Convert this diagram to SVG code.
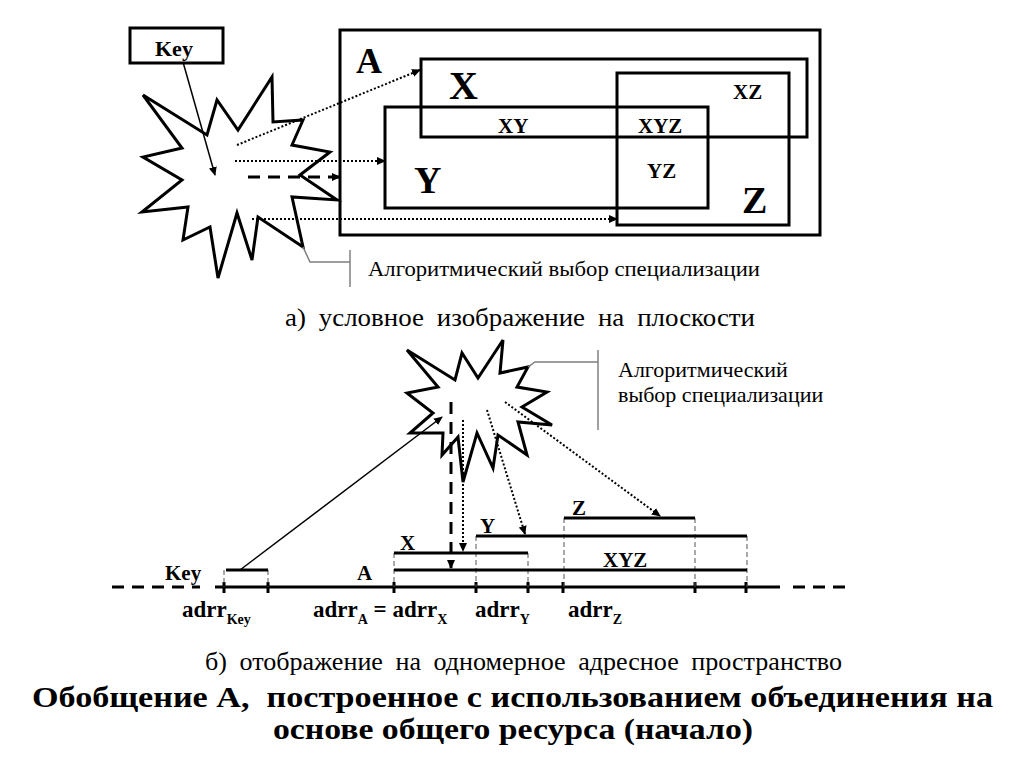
<svg xmlns="http://www.w3.org/2000/svg" width="1024" height="768" viewBox="0 0 1024 768">
<style>
.box{fill:none;stroke:#000;stroke-width:3}
.star{fill:#fff;stroke:#000;stroke-width:3;stroke-linejoin:miter}
.b{font-family:'Liberation Serif','Times New Roman','DejaVu Serif',serif;font-weight:bold;fill:#000}
.r{font-family:'Liberation Serif','Times New Roman','DejaVu Serif',serif;font-weight:normal;fill:#000}
.dot{fill:none;stroke:#000;stroke-width:2;stroke-dasharray:2 2}
.dash{fill:none;stroke:#000;stroke-width:3;stroke-dasharray:12 8}
.sol{fill:none;stroke:#000;stroke-width:1.5}
.call{fill:none;stroke:#7f7f7f;stroke-width:1.5}
.bar{fill:none;stroke:#000;stroke-width:3}
.gd{fill:none;stroke:#555;stroke-width:1;stroke-dasharray:5 3}
.tick{stroke:#000;stroke-width:3}
</style>
<defs>
<marker id="ah" markerUnits="userSpaceOnUse" markerWidth="9" markerHeight="8" refX="8" refY="4" orient="auto">
<path d="M0,0 L9,4 L0,8 Z" fill="#000"/>
</marker>
</defs>
<rect width="1024" height="768" fill="#fff"/>

<g id="boxA"><rect class="box" x="340" y="30" width="480" height="205"/><text class="b" font-family="Liberation Serif" x="356" y="73" font-size="36">A</text></g>
<g id="boxX"><rect class="box" x="421" y="59" width="386" height="78"/><text class="b" font-family="Liberation Serif" x="449" y="99" font-size="40">X</text></g>
<g id="boxY"><rect class="box" x="385" y="107" width="323" height="101"/><text class="b" font-family="Liberation Serif" x="414" y="193" font-size="38">Y</text></g>
<g id="boxZ"><rect class="box" x="617" y="73" width="172" height="152"/><text class="b" font-family="Liberation Serif" x="742" y="213" font-size="38">Z</text></g>
<g id="regions" font-family="Liberation Serif">
<text class="b" x="733" y="99" font-size="21">XZ</text>
<text class="b" x="498" y="133" font-size="21">XY</text>
<text class="b" x="638" y="133" font-size="21">XYZ</text>
<text class="b" x="647" y="178" font-size="21">YZ</text>
</g>
<g id="keyTop"><rect class="box" x="130" y="28" width="93" height="35"/><text class="b" font-family="Liberation Serif" x="155" y="56" font-size="22">Key</text></g>
<g id="starTop"><polygon class="star" points="143,95 207,135 217,100 238,130 272,77 273,122 303,120 292,145 330,152 300,175 337,200 292,197 303,247 258,217 252,260 237,213 218,278 210,227 183,240 188,207 142,212 182,180 143,157 182,148"/></g>
<g id="calloutTop">
<polyline class="call" points="303,247 310,262 350,262"/>
<line class="call" x1="350" y1="250" x2="350" y2="287"/>
<text class="r" font-family="Liberation Serif" x="368" y="276" font-size="22" textLength="392" lengthAdjust="spacingAndGlyphs">Алгоритмический выбор специализации</text>
</g>
<g id="connectorsTop">
<line class="sol" x1="183" y1="62" x2="215" y2="175" marker-end="url(#ah)"/>
<line class="dot" x1="237" y1="145" x2="420" y2="70" marker-end="url(#ah)"/>
<line class="dot" x1="235" y1="161" x2="385" y2="161" marker-end="url(#ah)"/>
<line class="dash" x1="248" y1="177" x2="340" y2="177" marker-end="url(#ah)"/>
<line class="dot" x1="252" y1="219" x2="617" y2="219" marker-end="url(#ah)"/>
</g>
<text class="r" font-family="Liberation Serif" x="285" y="326" font-size="26" word-spacing="6" textLength="470" lengthAdjust="spacingAndGlyphs">а) условное изображение на плоскости</text>

<g id="starBottom"><polygon class="star" points="407,350 455,380 462,353 478,378 503,340 500,373 528,367 517,387 547,392 522,407 552,425 518,422 527,455 498,435 493,468 477,433 463,482 458,437 442,455 443,433 410,433 433,413 407,393 438,387"/></g>
<g id="calloutBottom" font-family="Liberation Serif">
<polyline class="call" points="528,367 535,362 598,362"/>
<line class="call" x1="598" y1="350" x2="598" y2="430"/>
<text class="r" x="618" y="377" font-size="22">Алгоритмический</text>
<text class="r" x="618" y="402" font-size="22">выбор специализации</text>
</g>
<g id="axis">
<line class="dash" x1="112" y1="587" x2="200" y2="587" stroke-dasharray="18 10"/>
<line class="bar" x1="215" y1="587" x2="780" y2="587"/>
<line class="dash" x1="793" y1="587" x2="848" y2="587" stroke-dasharray="20 15"/>
<g class="tick">
<line x1="224" y1="582" x2="224" y2="593"/><line x1="268" y1="582" x2="268" y2="593"/>
<line x1="394" y1="582" x2="394" y2="593"/><line x1="476" y1="582" x2="476" y2="593"/>
<line x1="528" y1="582" x2="528" y2="593"/><line x1="563" y1="582" x2="563" y2="593"/>
<line x1="695" y1="582" x2="695" y2="593"/><line x1="746" y1="582" x2="746" y2="593"/>
</g>
</g>
<g id="guides">
<line class="gd" x1="224" y1="570" x2="224" y2="587"/>
<line class="gd" x1="268" y1="570" x2="268" y2="587"/>
<line class="gd" x1="394" y1="553" x2="394" y2="587"/>
<line class="gd" x1="476" y1="536" x2="476" y2="587"/>
<line class="gd" x1="528" y1="553" x2="528" y2="587"/>
<line class="gd" x1="564" y1="518" x2="564" y2="587"/>
<line class="gd" x1="695" y1="518" x2="695" y2="587"/>
<line class="gd" x1="747" y1="536" x2="747" y2="587"/>
</g>
<g font-family="Liberation Serif">
<g id="barKey"><line class="bar" x1="226" y1="570" x2="268" y2="570"/><text class="b" x="165" y="580" font-size="21">Key</text></g>
<g id="barA"><line class="bar" x1="394" y1="570" x2="747" y2="570"/><text class="b" x="357" y="580" font-size="21">A</text></g>
<g id="barX"><line class="bar" x1="394" y1="553" x2="528" y2="553"/><text class="b" x="400" y="550" font-size="21">X</text></g>
<g id="barY"><line class="bar" x1="476" y1="536" x2="747" y2="536"/><text class="b" x="480" y="533" font-size="21">Y</text></g>
<g id="barZ"><line class="bar" x1="564" y1="518" x2="695" y2="518"/><text class="b" x="572" y="515" font-size="21">Z</text></g>
<text class="b" x="603" y="567" font-size="21">XYZ</text>
<g id="addrLabels">
<text class="b" x="182" y="617" font-size="23">adrr<tspan font-size="14" dy="7">Key</tspan></text>
<text class="b" x="313" y="617" font-size="23">adrr<tspan font-size="14" dy="7">A</tspan><tspan dy="-7"> = adrr</tspan><tspan font-size="14" dy="7">X</tspan></text>
<text class="b" x="475" y="617" font-size="23">adrr<tspan font-size="14" dy="7">Y</tspan></text>
<text class="b" x="568" y="617" font-size="23">adrr<tspan font-size="14" dy="7">Z</tspan></text>
</g>
</g>
<g id="connectorsBottom">
<line class="sol" x1="240" y1="570" x2="442" y2="417" marker-end="url(#ah)"/>
<line class="dash" x1="451" y1="402" x2="451" y2="568" marker-end="url(#ah)"/>
<line class="dot" x1="463" y1="420" x2="463" y2="551" marker-end="url(#ah)"/>
<line class="dot" x1="487" y1="410" x2="525" y2="534" marker-end="url(#ah)"/>
<line class="dot" x1="505" y1="402" x2="660" y2="516" marker-end="url(#ah)"/>
</g>
<g font-family="Liberation Serif">
<text class="r" x="205" y="670" font-size="26" word-spacing="6" textLength="637" lengthAdjust="spacingAndGlyphs">б) отображение на одномерное адресное пространство</text>
<text class="b" x="32" y="707" font-size="30" textLength="961" lengthAdjust="spacingAndGlyphs" xml:space="preserve">Обобщение А,  построенное с использованием объединения на</text>
<text class="b" x="273" y="739" font-size="30" textLength="480" lengthAdjust="spacingAndGlyphs">основе общего ресурса (начало)</text>
</g>
</svg>
